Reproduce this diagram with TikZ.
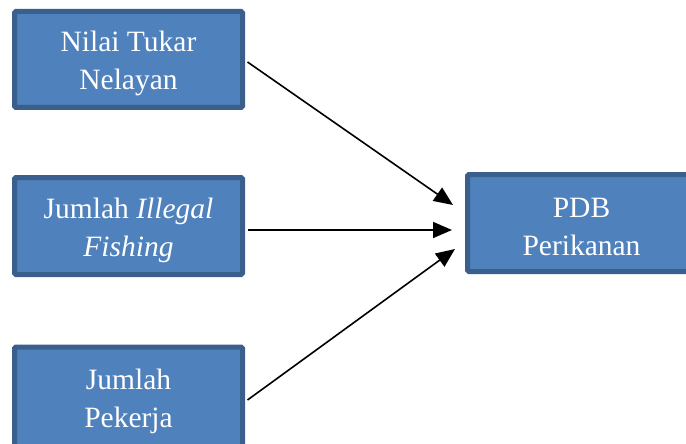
\documentclass[tikz,border=0pt]{standalone}
\usepackage{fontspec}
\setmainfont{Liberation Serif}
\usetikzlibrary{arrows.meta}
\definecolor{boxfill}{HTML}{4F81BD}
\definecolor{boxline}{HTML}{3A5F8C}
\tikzset{
  varbox/.style={draw=boxline, fill=boxfill, line width=5pt, rounded corners=1.5pt,
    minimum width=228pt, inner sep=0pt},
  boxtext/.style={text=white, align=center, inner sep=0pt, yshift=-4pt,
    font=\fontsize{29.5}{38}\selectfont},
  link/.style={line width=1.6pt, -{Triangle[length=19pt,width=16pt]}}
}
\begin{document}
\begin{tikzpicture}[x=1pt,y=1pt]
\useasboundingbox (0,0) rectangle (686,-444);
% independent variables
\node[varbox, minimum height=96pt] (b1) at (128.5,-59.5) {};
\node[boxtext] (b1t) at (b1.center) {Nilai Tukar\\Nelayan};
\node[varbox, minimum height=97pt] (b2) at (128.5,-226) {};
\node[boxtext] (b2t) at (b2.center) {Jumlah \textit{Illegal}\\\textit{Fishing}};
\node[varbox, minimum height=100pt] (b3) at (128.5,-397) {};
\node[boxtext] (b3t) at (b3.center) {Jumlah\\Pekerja};
% dependent variable
\node[varbox, minimum height=97pt] (pdb) at (581.5,-223) {};
\node[boxtext] (pdbt) at (pdb.center) {PDB\\Perikanan};
% arrow end points just left of the target box
\coordinate (t1) at ([xshift=-12pt,yshift=18pt]pdb.west);
\coordinate (t2) at ([xshift=-13pt,yshift=-7pt]pdb.west);
\coordinate (t3) at ([xshift=-10pt,yshift=-26pt]pdb.west);
\draw[link] ([xshift=2.5pt,yshift=-2.5pt]b1.east) -- (t1);
\draw[link] ([xshift=2.5pt,yshift=-4pt]b2.east) -- (t2);
\draw[link] ([xshift=2.5pt,yshift=-3pt]b3.east) -- (t3);
\end{tikzpicture}
\end{document}
